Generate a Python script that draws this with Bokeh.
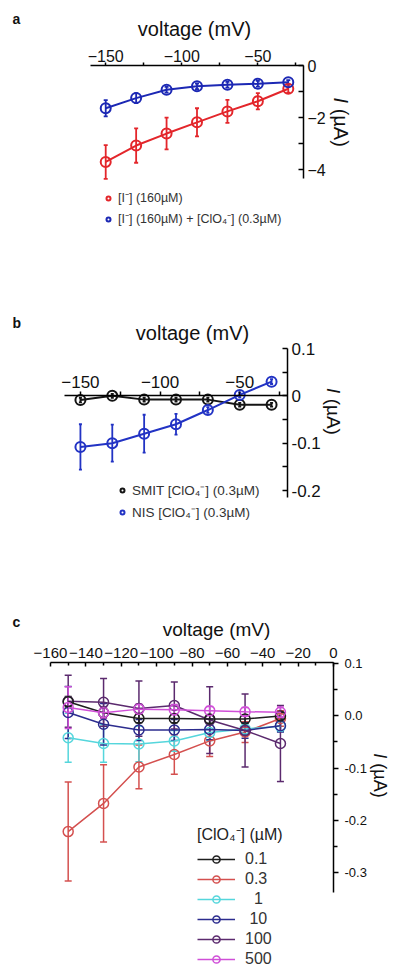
import math
from bokeh.plotting import figure
from bokeh.layouts import column
from bokeh.models import (ColumnDataSource, Whisker, TeeHead, Legend, LegendItem,
                          LinearAxis, FixedTicker, Range1d, Label, PrintfTickFormatter)
from bokeh.embed import file_html
from bokeh.resources import INLINE

FONT = "Liberation Sans"

# ---------------- data ----------------
voltage = [-150, -130, -110, -90, -70, -50, -30]

# panel a  (current, µA)
a_iodide = [-3.70, -3.07, -2.61, -2.18, -1.76, -1.37, -0.89]
a_iodide_err = [0.65, 0.66, 0.61, 0.54, 0.44, 0.31, 0.15]
a_iodide_perc = [-1.64, -1.25, -0.93, -0.80, -0.74, -0.70, -0.64]
a_iodide_perc_err = [0.31, 0.19, 0.11, 0.11, 0.11, 0.11, 0.08]
a_labels = ["[I⁻] (160µM)", "[I⁻] (160µM) + [ClO₄⁻] (0.3µM)"]

# panel b
b_smit = [-0.009, 0.000, -0.008, -0.008, -0.008, -0.019, -0.019]
b_smit_err = [0.005, 0.004, 0.004, 0.004, 0.004, 0.004, 0.004]
b_nis = [-0.108, -0.100, -0.080, -0.060, -0.030, 0.002, 0.030]
b_nis_err = [0.048, 0.039, 0.040, 0.022, 0.006, 0.005, 0.005]
b_labels = ["SMIT [ClO₄⁻] (0.3µM)", "NIS [ClO₄⁻] (0.3µM)"]

# panel c
c_conc_labels = ["0.1", "0.3", "\u20071", "\u200810", "100", "500"]
c_legend_title = "[ClO₄⁻] (µM)"
c_01 = [0.027, 0.006, -0.005, -0.005, -0.006, -0.006, 0.000]
c_01_err = [0.010, 0.010, 0.008, 0.008, 0.008, 0.008, 0.006]
c_03 = [-0.222, -0.168, -0.098, -0.074, -0.048, -0.031, -0.005]
c_03_err = [0.095, 0.074, 0.042, 0.038, 0.030, 0.020, 0.015]
c_1 = [-0.042, -0.053, -0.054, -0.048, -0.032, -0.025, -0.020]
c_1_err = [0.047, 0.036, 0.034, 0.020, 0.015, 0.012, 0.010]
c_10 = [0.0065, -0.016, -0.027, -0.027, -0.026, -0.028, -0.019]
c_10_err = [0.050, 0.040, 0.020, 0.020, 0.020, 0.015, 0.012]
c_100 = [0.028, 0.026, 0.014, 0.020, -0.008, -0.028, -0.053]
c_100_err = [0.050, 0.046, 0.053, 0.045, 0.064, 0.070, 0.073]
c_500 = [0.016, 0.006, 0.013, 0.012, 0.010, 0.008, 0.007]
c_500_err = [0.040, 0.010, 0.010, 0.010, 0.008, 0.008, 0.010]

W = 393
ROT = -math.pi / 2


class Panel:
    """Figure whose frame fills the whole canvas; axes are fixed in data space."""

    def __init__(self, h, xa, ya):
        (x1, px1), (x2, px2) = xa
        (y1, py1), (y2, py2) = ya
        self.sx = (px2 - px1) / (x2 - x1)
        self.sy = (py2 - py1) / (y1 - y2)  # pixels per unit, y downward
        self.x0 = x1 - px1 / self.sx
        self.y0 = y1 + py1 / self.sy
        xr = Range1d(self.x0, self.x0 + W / self.sx)
        yr = Range1d(self.y0 - h / self.sy, self.y0)
        self.p = figure(width=W, height=h, x_range=xr, y_range=yr, title=None,
                        x_axis_location=None, y_axis_location=None,
                        output_backend="svg", toolbar_location=None,
                        min_border=0, min_border_left=0, min_border_right=0,
                        min_border_top=0, min_border_bottom=0)
        self.p.grid.visible = False
        self.p.outline_line_color = None

    def X(self, px):
        return self.x0 + px / self.sx

    def Y(self, py):
        return self.y0 - py / self.sy

    def text(self, px, py, t, size, style="normal", angle=0.0, align="center"):
        self.p.add_layout(Label(x=self.X(px), y=self.Y(py), text=t, angle=angle,
                                text_align=align, text_baseline="middle",
                                text_font=FONT, text_font_size=size,
                                text_font_style=style, text_color="#111111"))

    def ylabel(self, px, py_center, size_px):
        # "I (µA)" read top-to-bottom, with an italic I
        total = 2.465 * size_px
        top = py_center - total / 2
        self.text(px, top, "I", f"{size_px}px", style="italic", angle=ROT, align="left")
        self.text(px, top + 0.556 * size_px, "(µA)", f"{size_px}px", angle=ROT, align="left")


def make_src(x, y, err):
    return ColumnDataSource(dict(x=x, y=y,
                                 upper=[v + e for v, e in zip(y, err)],
                                 lower=[v - e for v, e in zip(y, err)]))


def add_series(p, src, color, size, lw, cap, wlw):
    ln = p.line("x", "y", source=src, line_color=color, line_width=lw)
    w = Whisker(source=src, base="x", upper="upper", lower="lower",
                line_color=color, line_width=wlw,
                upper_head=TeeHead(size=cap, line_color=color, line_width=wlw),
                lower_head=TeeHead(size=cap, line_color=color, line_width=wlw))
    p.add_layout(w)
    sc = p.scatter("x", "y", source=src, marker="circle", size=size,
                   line_color=color, fill_color=None, line_width=lw)
    return ln, sc


def axis(p, side, loc, bounds, ticks, minor, size, tin, tout, mtin, mtout, standoff, fmt=None):
    ax = LinearAxis(fixed_location=loc, bounds=bounds,
                    ticker=FixedTicker(ticks=ticks, minor_ticks=minor))
    if fmt:
        ax.formatter = PrintfTickFormatter(format=fmt)
    ax.axis_line_color = "black"
    ax.axis_line_width = 1.5
    ax.major_tick_line_color = "black"
    ax.major_tick_line_width = 1.5
    ax.minor_tick_line_color = "black"
    ax.minor_tick_line_width = 1.5
    ax.major_tick_in, ax.major_tick_out = tin, tout
    ax.minor_tick_in, ax.minor_tick_out = mtin, mtout
    ax.major_label_standoff = standoff
    ax.major_label_text_font = FONT
    ax.major_label_text_font_size = size
    ax.major_label_text_color = "#111111"
    p.add_layout(ax, side)
    return ax


def legend(p, items, loc, gw, gh, spacing, standoff, size, **kw):
    lg = Legend(items=items, location=loc, glyph_width=gw, glyph_height=gh,
                label_height=gh, spacing=spacing, padding=0, margin=0,
                label_standoff=standoff, label_text_font=FONT,
                label_text_font_size=size, label_text_color="#333333",
                background_fill_alpha=0, border_line_color=None, **kw)
    p.add_layout(lg)
    return lg


# ---------------- panel a ----------------
A = Panel(290, ((-160, 90), (-20, 303)), ((0, 65), (-4, 169.3)))
pa = A.p
axis(pa, "above", 0, (-160, -20), [-150, -100, -50], [-125, -75, -25],
     "16px", 0, 3, 0, 3, 1)
axis(pa, "right", -20, (-4.35, 0), [0, -2, -4], [-1, -3],
     "16px", 5, 0, 5, 0, 4)
sa1 = make_src(voltage, a_iodide, a_iodide_err)
sa2 = make_src(voltage, a_iodide_perc, a_iodide_perc_err)
_, sc_a1 = add_series(pa, sa1, "#e3262b", 10, 2, 4, 1.8)
_, sc_a2 = add_series(pa, sa2, "#1c28b4", 10, 2, 4, 1.8)
legend(pa, [LegendItem(label=a_labels[0], renderers=[sc_a1]),
            LegendItem(label=a_labels[1], renderers=[sc_a2])],
       (103, 290 - 227), 10, 16, 4, 5, "12.5px")
A.text(194, 28, "voltage (mV)", "20px")
A.ylabel(340, 121.7, 20)
A.text(12, 18, "a", "14px", style="bold", align="left")

# ---------------- panel b ----------------
B = Panel(285, ((-160, 64), (-20, 287)), ((0.1, 58), (-0.2, 200)))
pb = B.p
axis(pb, "above", 0, (-160, -20), [-150, -100, -50], [-125, -75, -25],
     "17px", 0, 4, 0, 4, 4)
yb = axis(pb, "right", -20, (-0.215, 0.1), [0.1, 0, -0.1, -0.2], [0.05, -0.05, -0.15],
          "17px", 5, 0, 5, 0, 4, fmt="%.1f")
yb.major_label_overrides = {0: "0"}
sb1 = make_src(voltage, b_smit, b_smit_err)
sb2 = make_src(voltage, b_nis, b_nis_err)
_, sc_b1 = add_series(pb, sb1, "#141414", 10, 2, 3, 1.8)
_, sc_b2 = add_series(pb, sb2, "#2233c4", 10, 2, 3, 1.8)
legend(pb, [LegendItem(label=b_labels[0], renderers=[sc_b1]),
            LegendItem(label=b_labels[1], renderers=[sc_b2])],
       (117, 285 - 231), 10, 18, 4, 5, "13.5px")
B.text(192, 42, "voltage (mV)", "20px")
B.ylabel(333, 121, 19)
B.text(12, 32, "b", "14px", style="bold", align="left")

# ---------------- panel c ----------------
C = Panel(394, ((-160, 50), (0, 333)), ((0.1, 88.3), (-0.3, 296.7)))
pc = C.p
axis(pc, "above", 0.103, (-160, 0),
     [-160, -140, -120, -100, -80, -60, -40, -20, 0],
     [-150, -130, -110, -90, -70, -50, -30, -10],
     "15px", 4, 0, 3, 0, 4)
axis(pc, "right", 0, (-0.339, 0.103), [0.1, 0, -0.1, -0.2, -0.3],
     [0.05, -0.05, -0.15, -0.25], "13px", 0, 5, 0, 4, 6, fmt="%.1f")
series_c = [(c_01, c_01_err, "#1e1e1e"), (c_03, c_03_err, "#d4504f"),
            (c_1, c_1_err, "#55d6dc"), (c_10, c_10_err, "#2c2c8e"),
            (c_100, c_100_err, "#5b2a6e"), (c_500, c_500_err, "#d04fd8")]
draw_order = [1, 2, 3, 4, 0, 5]
rend_c = {}
for i in draw_order:
    y, e, col = series_c[i]
    rend_c[i] = add_series(pc, make_src(voltage, y, e), col, 10, 1.5, 7, 1.5)
legend(pc, [LegendItem(label=c_conc_labels[i], renderers=list(rend_c[i])) for i in range(6)],
       (197, 1), 38, 18, 2, 10, "16px",
       title=c_legend_title, title_text_font=FONT, title_text_font_size="16px",
       title_text_font_style="normal", title_text_color="#222222", title_standoff=5)
C.text(216, 54, "voltage (mV)", "19px")
C.ylabel(379, 200, 18)
C.text(12, 46, "c", "14px", style="bold", align="left")

layout = column(pa, pb, pc, spacing=0)
open("out.html", "w").write(file_html(layout, INLINE))
